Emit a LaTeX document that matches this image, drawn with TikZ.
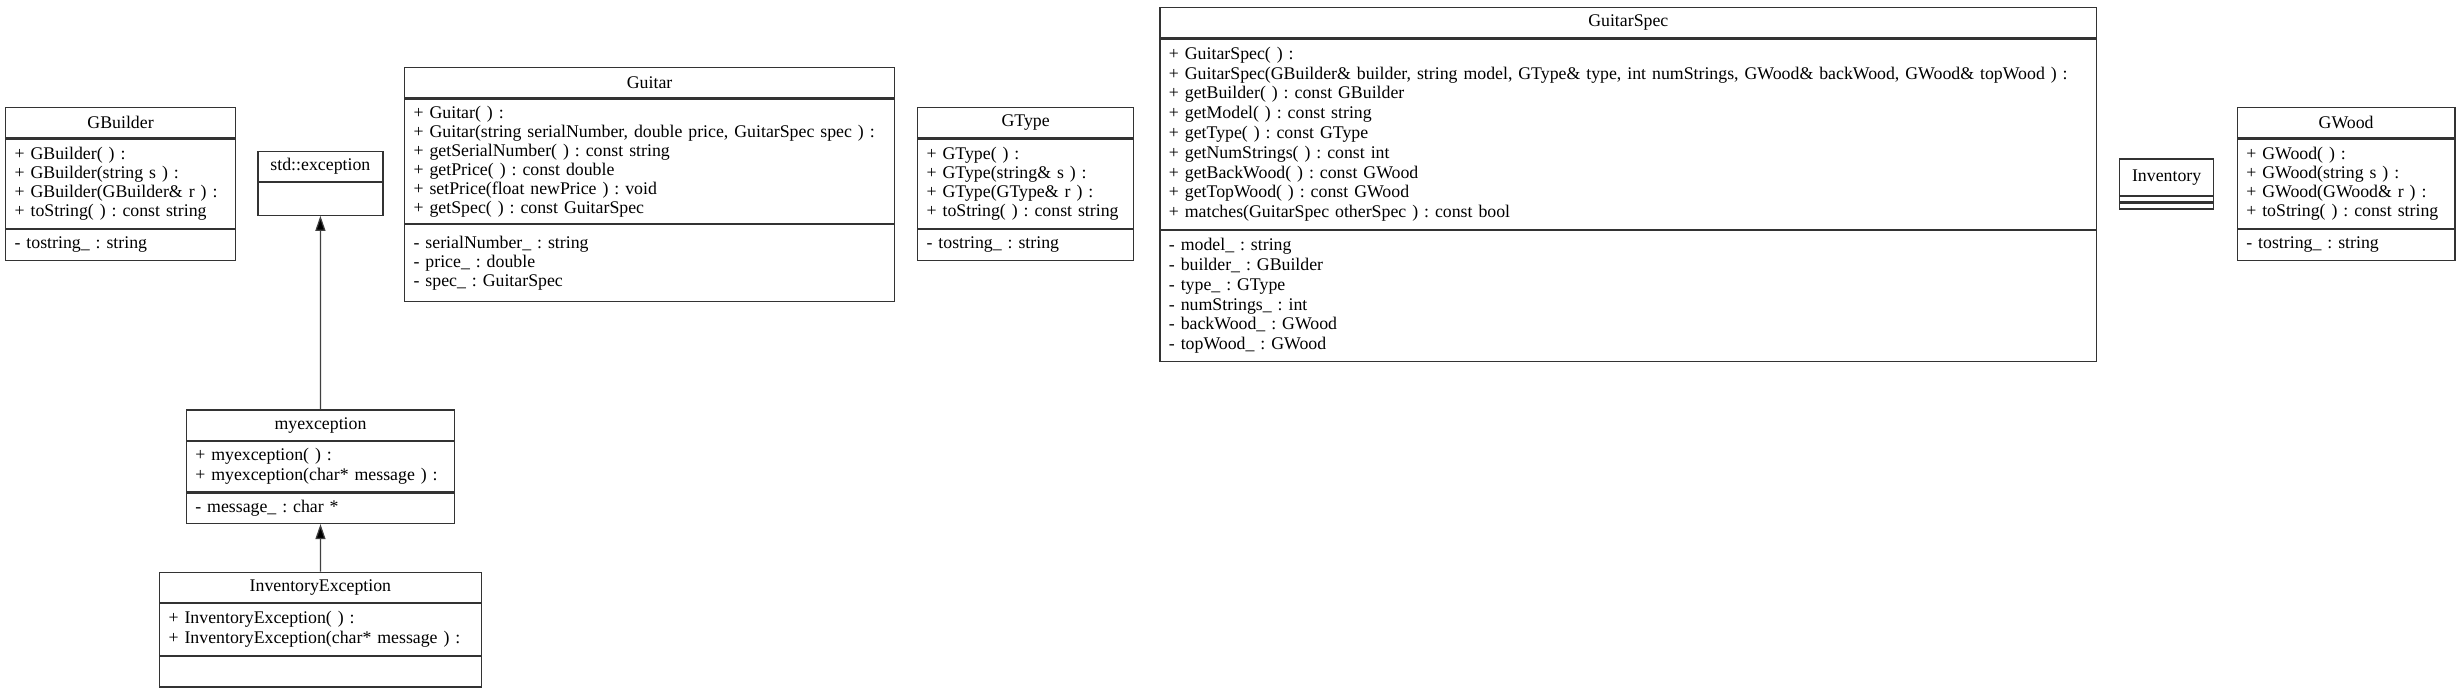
\documentclass[tikz,border=0pt]{standalone}
\usepackage{fontspec}
\setmainfont{Liberation Serif}
\usetikzlibrary{positioning, arrows.meta}

\begin{document}
\frenchspacing
\begin{tikzpicture}[
        x=0.5pt,
        y=-0.5pt,
        every node/.style={font=\fontsize{8.9}{9.5}\selectfont},
        classname/.style={draw=black!80, line width=0.6pt, anchor=north west, inner sep=0pt},
        members/.style={draw=black!80, line width=0.6pt, inner xsep=4.5pt, inner ysep=0pt, align=left},
        compartment/.style={draw=black!80, line width=0.6pt, inner sep=0pt},
        inherit/.style={draw=black!75, line width=0.6pt, -{Triangle[length=7.5pt, width=5pt, fill=black]}}
    ]
    \useasboundingbox (0,0) rectangle (2461,691);

    % GBuilder
    \node[classname, minimum width=115pt, minimum height=15.3pt] (gbuilder) at (5,106.7) {GBuilder};
    \node[members, text width=106pt, minimum height=44.7pt, below=0pt of gbuilder] (gbuilderOps) {
        + GBuilder( ) :\\
        + GBuilder(string s ) :\\
        + GBuilder(GBuilder\& r ) :\\
        + toString( ) : const string};
    \node[members, text width=106pt, minimum height=15.3pt, below=0pt of gbuilderOps] (gbuilderAttrs) {- tostring\_ : string};

    % std::exception
    \node[classname, minimum width=62.5pt, minimum height=15pt] (stdexc) at (257.3,151) {std::exception};
    \node[compartment, minimum width=62.5pt, minimum height=16.2pt, below=0pt of stdexc] (stdexcOps) {};

    % Guitar
    \node[classname, minimum width=245pt, minimum height=15.3pt] (guitar) at (404,66.7) {Guitar};
    \node[members, text width=236pt, minimum height=62.2pt, below=0pt of guitar] (guitarOps) {
        + Guitar( ) :\\
        + Guitar(string serialNumber, double price, GuitarSpec spec ) :\\
        + getSerialNumber( ) : const string\\
        + getPrice( ) : const double\\
        + setPrice(float newPrice ) : void\\
        + getSpec( ) : const GuitarSpec};
    \node[members, text width=236pt, minimum height=38.3pt, below=0pt of guitarOps] (guitarAttrs) {
        - serialNumber\_ : string\\
        - price\_ : double\\
        - spec\_ : GuitarSpec};

    % GType
    \node[classname, minimum width=108pt, minimum height=15.3pt] (gtype) at (917,106.7) {GType};
    \node[members, text width=99pt, minimum height=44.7pt, below=0pt of gtype] (gtypeOps) {
        + GType( ) :\\
        + GType(string\& s ) :\\
        + GType(GType\& r ) :\\
        + toString( ) : const string};
    \node[members, text width=99pt, minimum height=15.3pt, below=0pt of gtypeOps] (gtypeAttrs) {- tostring\_ : string};

    % GuitarSpec
    \node[classname, minimum width=468.4pt, minimum height=15.3pt] (gspec) at (1159.3,6.7) {GuitarSpec};
    \node[members, text width=459.4pt, minimum height=95.2pt, font=\fontsize{8.9}{9.9}\selectfont, below=0pt of gspec] (gspecOps) {
        + GuitarSpec( ) :\\
        + GuitarSpec(GBuilder\& builder, string model, GType\& type, int numStrings, GWood\& backWood, GWood\& topWood ) :\\
        + getBuilder( ) : const GBuilder\\
        + getModel( ) : const string\\
        + getType( ) : const GType\\
        + getNumStrings( ) : const int\\
        + getBackWood( ) : const GWood\\
        + getTopWood( ) : const GWood\\
        + matches(GuitarSpec otherSpec ) : const bool};
    \node[members, text width=459.4pt, minimum height=65.3pt, font=\fontsize{8.9}{9.9}\selectfont, below=0pt of gspecOps] (gspecAttrs) {
        - model\_ : string\\
        - builder\_ : GBuilder\\
        - type\_ : GType\\
        - numStrings\_ : int\\
        - backWood\_ : GWood\\
        - topWood\_ : GWood};

    % Inventory
    \node[classname, minimum width=47pt, minimum height=18.3pt] (inventory) at (2119,158.3) {Inventory};
    \node[compartment, minimum width=47pt, minimum height=2.5pt, below=0pt of inventory] (inventoryOps) {};
    \node[compartment, minimum width=47pt, minimum height=3pt, below=0pt of inventoryOps] (inventoryAttrs) {};

    % GWood
    \node[classname, minimum width=108.8pt, minimum height=15.3pt] (gwood) at (2236.7,106.7) {GWood};
    \node[members, text width=99.8pt, minimum height=44.7pt, below=0pt of gwood] (gwoodOps) {
        + GWood( ) :\\
        + GWood(string s ) :\\
        + GWood(GWood\& r ) :\\
        + toString( ) : const string};
    \node[members, text width=99.8pt, minimum height=15.3pt, below=0pt of gwoodOps] (gwoodAttrs) {- tostring\_ : string};

    % myexception
    \node[classname, minimum width=134.2pt, minimum height=15.3pt] (myexc) at (185.7,409.3) {myexception};
    \node[members, text width=125.2pt, minimum height=25pt, font=\fontsize{8.9}{10}\selectfont, below=0pt of myexc] (myexcOps) {
        + myexception( ) :\\
        + myexception(char* message ) :};
    \node[members, text width=125.2pt, minimum height=15.3pt, below=0pt of myexcOps] (myexcAttrs) {- message\_ : char *};

    % InventoryException
    \node[classname, minimum width=160.8pt, minimum height=15pt] (invexc) at (159,571.7) {InventoryException};
    \node[members, text width=151.8pt, minimum height=25.8pt, font=\fontsize{8.9}{10}\selectfont, below=0pt of invexc] (invexcOps) {
        + InventoryException( ) :\\
        + InventoryException(char* message ) :};
    \node[compartment, minimum width=160.8pt, minimum height=15.3pt, below=0pt of invexcOps] (invexcAttrs) {};

    \draw[inherit] (myexc.north) -- (stdexcOps.south);
    \draw[inherit] (invexc.north) -- (myexcAttrs.south);
\end{tikzpicture}
\end{document}
